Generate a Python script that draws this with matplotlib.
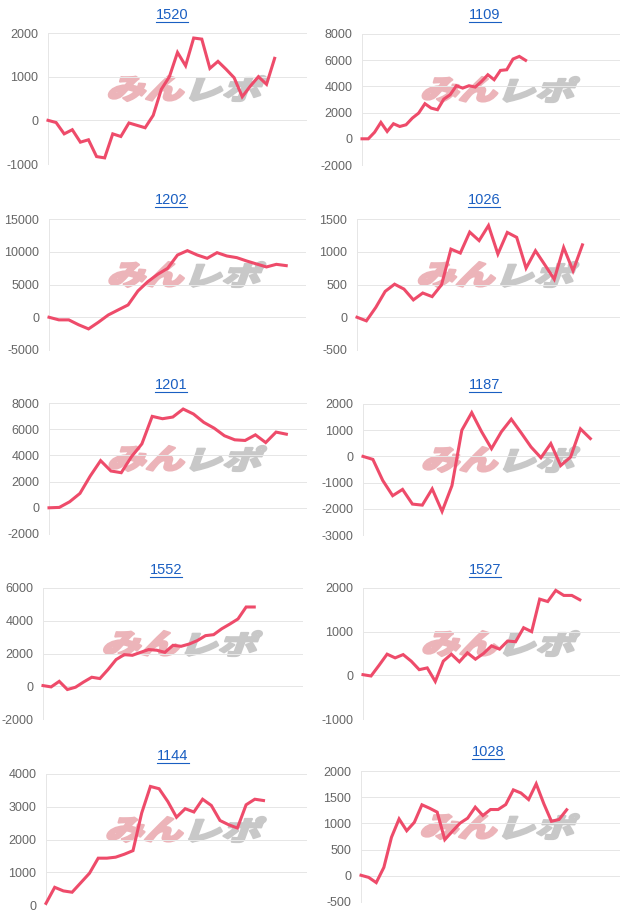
import matplotlib
matplotlib.use("Agg")
import matplotlib.pyplot as plt
from matplotlib.textpath import TextPath
from matplotlib.patches import PathPatch
from matplotlib.font_manager import FontProperties
from matplotlib.transforms import Affine2D, IdentityTransform
from matplotlib.lines import Line2D

# ---------------- data ----------------
TITLES = ["1520", "1109", "1202", "1026", "1201", "1187", "1552", "1527", "1144", "1028"]

v1520 = [0, -50, -310, -215, -500, -445, -830, -860, -310, -370, -60, -115, -170, 115,
         710, 1000, 1555, 1250, 1885, 1860, 1190, 1350, 1170, 975, 540, 785, 1000, 825, 1420]
v1109 = [0, 0, 500, 1250, 560, 1150, 940, 1070, 1580, 1960, 2680, 2340, 2220, 3030, 3360,
         4050, 3870, 4050, 3950, 4380, 4890, 4510, 5220, 5270, 6090, 6290, 5990]
v1202 = [0, -400, -400, -1150, -1780, -760, 350, 1120, 1880, 4020, 5440, 6560, 7470, 9500,
         10170, 9500, 9000, 9860, 9350, 9100, 8590, 8130, 7680, 8080, 7880]
v1026 = [0, -55, 150, 395, 505, 430, 265, 370, 315, 495, 1040, 980, 1300, 1170, 1400, 965,
         1295, 1220, 750, 1015, 800, 580, 1065, 710, 1105]
v1201 = [0, 30, 460, 1100, 2430, 3600, 2810, 2680, 3910, 4880, 6980, 6800, 6930, 7540, 7160,
         6520, 6080, 5500, 5190, 5140, 5570, 4980, 5780, 5620]
v1187 = [0, -115, -920, -1500, -1260, -1820, -1860, -1240, -2100, -1115, 1000, 1670, 940, 295,
         940, 1420, 900, 360, -50, 490, -350, -25, 1050, 680]
v1552 = [40, -40, 300, -200, -60, 260, 550, 470, 1020, 1630, 1930, 1890, 2070, 2240, 2200, 2070,
         2500, 2440, 2580, 2790, 3090, 3150, 3510, 3800, 4110, 4840, 4840]
v1527 = [15, -15, 230, 485, 400, 475, 325, 130, 170, -140, 325, 485, 310, 515, 370, 500, 675,
         600, 785, 770, 1090, 1000, 1745, 1690, 1945, 1830, 1830, 1730]
v1144 = [50, 540, 430, 390, 680, 970, 1430, 1430, 1460, 1550, 1660, 2810, 3620, 3550, 3160,
         2680, 2940, 2840, 3230, 3040, 2580, 2450, 2350, 3060, 3230, 3190]
v1028 = [10, -30, -130, 160, 735, 1085, 860, 1020, 1355, 1290, 1215, 690, 850, 1005, 1100, 1310,
         1150, 1265, 1265, 1360, 1640, 1580, 1455, 1755, 1375, 1040, 1075, 1260]

SERIES = [v1520, v1109, v1202, v1026, v1201, v1187, v1552, v1527, v1144, v1028]
SLOTS = [33, 42, 27, 29, 26, 27, 33, 33, 31, 35]
Y_MIN = [-1000, -2000, -5000, -500, -2000, -3000, -2000, -1000, 0, -500]
Y_MAX = [2000, 8000, 15000, 1500, 8000, 2000, 6000, 2000, 4000, 2000]
Y_STEP = [1000, 2000, 5000, 500, 2000, 1000, 2000, 1000, 1000, 500]

# ---------------- layout, pixels from top-left ----------------
W, H = 625, 915
PLOT_LEFT = [48, 362, 49, 357, 49, 363, 43, 363, 46, 361]
PLOT_RIGHT = [307, 620, 306, 620, 307, 620, 303, 620, 307, 620]
PLOT_TOP = [33, 34, 219, 219, 403, 404, 588, 588, 774, 771]
PLOT_H = 131
TITLE_X = [172, 485, 171, 484, 171, 485, 166, 485, 173, 488]
TITLE_Y = [15, 15, 200, 200, 385, 385, 570, 570, 756, 752]

LINE_COLOR = "#ee4b6a"
TITLE_COLOR = "#1a5fc2"
GRID_COLOR = "#e6e6e6"
ZERO_COLOR = "#bdbdbd"
TICK_COLOR = "#666666"
PX = 0.72  # one pixel in points

plt.rcParams["font.family"] = ["Liberation Sans", "DejaVu Sans"]
LOGO_FONT = FontProperties(family="Noto Sans CJK JP", weight="heavy")


def logo_part(ax, text, color, x0, x1, ytop, ybot):
    """Draw text stretched into a pixel box, slanted like the site logo."""
    tp = TextPath((0, 0), text, size=10, prop=LOGO_FONT)
    p = Affine2D().skew_deg(14, 0).transform_path(tp)
    ext = p.get_extents()
    tr = (Affine2D().translate(-ext.x0, -ext.y0)
          .scale((x1 - x0) / ext.width, (ybot - ytop) / ext.height)
          .translate(x0, H - ybot))
    ax.add_patch(PathPatch(tr.transform_path(p), transform=IdentityTransform(),
                           facecolor=color, edgecolor=color, lw=1.6,
                           joinstyle="round", zorder=1.5))


fig = plt.figure(figsize=(W / 100, H / 100), dpi=100)
fig.patch.set_facecolor("white")

titles = []
for i, vals in enumerate(SERIES):
    l, r, t = PLOT_LEFT[i], PLOT_RIGHT[i], PLOT_TOP[i]
    ax = fig.add_axes([l / W, 1 - (t + PLOT_H) / H, (r - l) / W, PLOT_H / H])
    ax.set_facecolor("none")

    ticks = list(range(Y_MIN[i], Y_MAX[i] + 1, Y_STEP[i]))
    ax.set_yticks(ticks)
    ax.set_yticklabels([str(v) for v in ticks])
    ax.set_xticks([])
    ax.tick_params(axis="y", length=0, pad=7, labelsize=9, labelcolor=TICK_COLOR)
    ax.grid(axis="y", color=GRID_COLOR, lw=PX, zorder=0)
    ax.axhline(0, color=ZERO_COLOR, lw=PX, zorder=1)
    for side in ["top", "right", "bottom"]:
        ax.spines[side].set_visible(False)
    ax.spines["left"].set_color(GRID_COLOR)
    ax.spines["left"].set_linewidth(PX)

    # watermark
    w = r - l
    logo_part(ax, "みん", "#ecb4b9", l + 0.235 * w, l + 0.525 * w, t + 43, t + 68)
    logo_part(ax, "レポ", "#c8c8c8", l + 0.548 * w, l + 0.842 * w, t + 43, t + 68)

    ax.plot(range(len(vals)), vals, color=LINE_COLOR, lw=2.2,
            solid_joinstyle="miter", zorder=3, clip_on=False)
    ax.set_xlim(0, SLOTS[i] - 1)
    ax.set_ylim(Y_MIN[i], Y_MAX[i])

    titles.append(fig.text(TITLE_X[i] / W, 1 - TITLE_Y[i] / H, TITLES[i],
                           ha="center", va="center", fontsize=10.5,
                           color=TITLE_COLOR))

# underline the titles (they are links in the original)
fig.canvas.draw()
renderer = fig.canvas.get_renderer()
for i, txt in enumerate(titles):
    bb = txt.get_window_extent(renderer)
    y = 1 - (TITLE_Y[i] + 6.5) / H
    fig.add_artist(Line2D([bb.x0 / W, bb.x1 / W], [y, y], color=TITLE_COLOR, lw=0.8))

fig.savefig("out.png", dpi=100, facecolor="white")
